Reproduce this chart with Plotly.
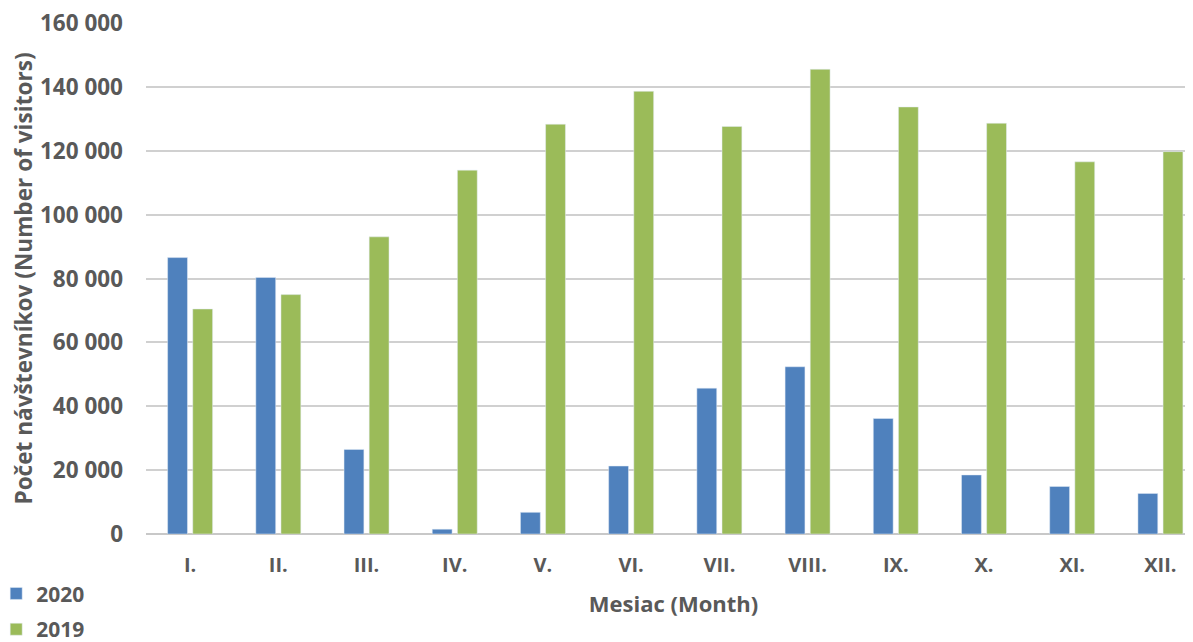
import plotly.graph_objects as go

months = ["I.", "II.", "III.", "IV.", "V.", "VI.", "VII.", "VIII.", "IX.", "X.", "XI.", "XII."]
visitors_2020 = [86600, 80400, 26500, 1500, 6800, 21300, 45700, 52400, 36200, 18500, 14900, 12700]
visitors_2019 = [70500, 75000, 93100, 114000, 128400, 138700, 127700, 145600, 133800, 128700, 116600, 119800]
y_ticks = [0, 20000, 40000, 60000, 80000, 100000, 120000, 140000, 160000]
y_tick_text = ["0", "20 000", "40 000", "60 000", "80 000", "100 000", "120 000", "140 000", "160 000"]

FONT = "Open Sans"
TXT = "#595959"

fig = go.Figure()
fig.add_trace(go.Bar(name="2020", x=months, y=visitors_2020, marker_color="#4F81BD",
                     legend="legend"))
fig.add_trace(go.Bar(name="2019", x=months, y=visitors_2019, marker_color="#9BBB59",
                     legend="legend2"))

legend_style = dict(orientation="v", xref="paper", yref="paper", x=-0.142,
                    xanchor="left", yanchor="middle",
                    font=dict(family=FONT, size=21, color=TXT, weight="bold"),
                    bgcolor="rgba(0,0,0,0)")

# page body adds an 8px offset; margins below compensate for it
fig.update_layout(
    width=1193, height=642,
    margin=dict(l=138, r=0, t=15, b=116, autoexpand=False),
    paper_bgcolor="white", plot_bgcolor="white",
    barmode="group", bargap=0.43, bargroupgap=0.21,
    font=dict(family=FONT, color=TXT, size=21),
    showlegend=True,
    legend=dict(legend_style, y=-0.117),
    legend2=dict(legend_style, y=-0.187),
    xaxis=dict(range=[-0.5, 11.46], showgrid=False, showline=False, zeroline=False,
               automargin=False,
               tickfont=dict(family=FONT, size=20, color=TXT, weight="bold"),
               ticklabelstandoff=17,
               title=dict(text="Mesiac (Month)", standoff=19,
                          font=dict(family=FONT, size=22, color=TXT, weight="bold"))),
    yaxis=dict(range=[0, 160100], tickvals=y_ticks, ticktext=y_tick_text,
               showgrid=True, gridcolor="#d0d0d0", gridwidth=1.6,
               zeroline=True, zerolinecolor="#c8c8c8", zerolinewidth=2,
               showline=False, ticklabelstandoff=22, automargin=False,
               ticklabeloverflow="allow",
               tickfont=dict(family=FONT, size=22.5, color=TXT, weight="bold"),
               title=dict(text="Počet návštevníkov (Number of visitors)", standoff=2,
                          font=dict(family=FONT, size=22.6, color=TXT, weight="bold"))),
)

fig.write_html("out.html")
